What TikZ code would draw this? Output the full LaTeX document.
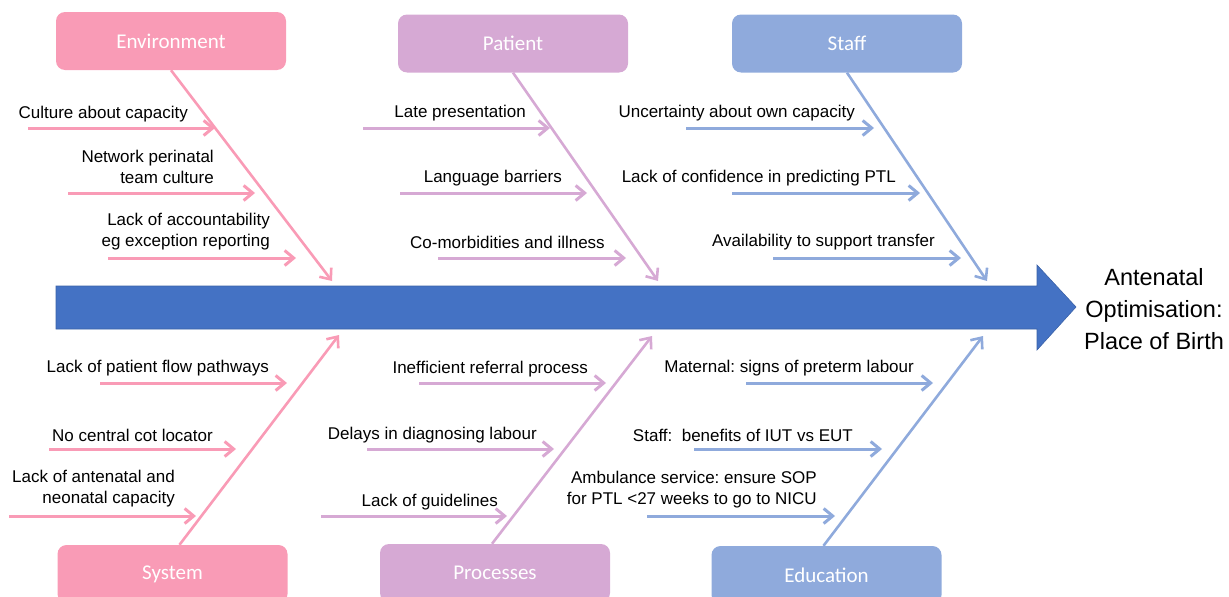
\documentclass[tikz,border=0pt]{standalone}
\usepackage{fontspec}
\setmainfont{Liberation Sans}
\newfontfamily\boxfont{Carlito}
\usetikzlibrary{arrows.meta}
\frenchspacing

\definecolor{envpink}{RGB}{249,155,182}
\definecolor{patpurple}{RGB}{214,169,212}
\definecolor{staffblue}{RGB}{143,170,220}
\definecolor{spineblue}{RGB}{68,114,196}

\tikzset{
  catbox/.style={fill=#1, rounded corners=9pt, minimum width=230pt, minimum height=58pt,
    inner sep=0pt, text=white, font=\boxfont\fontsize{21}{25}\selectfont},
  bone/.style={draw=#1, line width=2.6pt, -{Straight Barb[length=9pt,width=15pt]}},
  twig/.style={draw=#1, line width=3pt, -{Straight Barb[length=9pt,width=15pt]}},
  cause/.style={anchor=east, inner sep=0pt, align=right, font=\fontsize{17}{21}\selectfont},
}

\begin{document}
\begin{tikzpicture}[x=1pt,y=-1pt]
\useasboundingbox (0,0) rectangle (1229,597);

% main spine
\draw[spineblue!85!black, fill=spineblue, line width=0.6pt]
  (56,286) -- (1037,286) -- (1037,265) -- (1076,307) -- (1037,350) -- (1037,329) -- (56,329) -- cycle;
\node[align=center, font=\fontsize{23.5}{32}\selectfont] (goal) at (1154,309)
  {Antenatal\\Optimisation:\\Place of Birth};

% category boxes
\node[catbox=envpink] (env) at (171,41) {Environment};
\node[catbox=patpurple] (pat) at (513,43.5) {Patient};
\node[catbox=staffblue] (stf) at (847,43.5) {Staff};
\node[catbox=envpink] (sys) at (172.5,574) {System};
\node[catbox=patpurple] (prc) at (495,573) {Processes};
\node[catbox=staffblue] (edu) at (826.5,575) {Education};

% bones
\coordinate (envhead) at (332,281);
\coordinate (pathead) at (658,281);
\coordinate (stfhead) at (987,281);
\coordinate (syshead) at (339,335);
\coordinate (prchead) at (652,336);
\coordinate (eduhead) at (983,336);
\draw[bone=envpink] (env.south) -- (envhead);
\draw[bone=patpurple] (pat.south) -- (pathead);
\draw[bone=staffblue] (stf.south) -- (stfhead);
\draw[bone=envpink] ([xshift=7pt]sys.north) -- (syshead);
\draw[bone=patpurple] ([xshift=-3pt]prc.north) -- (prchead);
\draw[bone=staffblue] ([xshift=-3pt]edu.north) -- (eduhead);

% environment
\draw[twig=envpink] (28,128) -- (215,128);
\draw[twig=envpink] (68,193) -- (255,193);
\draw[twig=envpink] (108,258) -- (296,258);
\node[cause] (env1) at (188,114) {Culture about capacity};
\node[cause] (env2) at (214,167) {Network perinatal\\team culture};
\node[cause] (env3) at (270,232) {Lack of accountability\\eg exception reporting};

% patient
\draw[twig=patpurple] (363,128) -- (550,128);
\draw[twig=patpurple] (400,193) -- (587,193);
\draw[twig=patpurple] (438,258) -- (626,258);
\node[cause] (pat1) at (526,113) {Late presentation};
\node[cause] (pat2) at (562,178) {Language barriers};
\node[cause] (pat3) at (605,242) {Co-morbidities and illness};

% staff
\draw[twig=staffblue] (686,128) -- (874,128);
\draw[twig=staffblue] (732,193) -- (920,193);
\draw[twig=staffblue] (773,258) -- (961,258);
\node[cause] (stf1) at (855,113) {Uncertainty about own capacity};
\node[cause] (stf2) at (896,178) {Lack of confidence in predicting PTL};
\node[cause] (stf3) at (935,242) {Availability to support transfer};

% system
\draw[twig=envpink] (100,383) -- (287,383);
\draw[twig=envpink] (49,449) -- (236,449);
\draw[twig=envpink] (9,516) -- (196,516);
\node[cause] (sys1) at (269,368) {Lack of patient flow pathways};
\node[cause] (sys2) at (213,435) {No central cot locator};
\node[cause] (sys3) at (175,489) {Lack of antenatal and\\neonatal capacity};

% processes
\draw[twig=patpurple] (419,383) -- (606,383);
\draw[twig=patpurple] (367,449) -- (554,449);
\draw[twig=patpurple] (321,516) -- (507,516);
\node[cause] (prc1) at (588,369) {Inefficient referral process};
\node[cause] (prc2) at (537,435) {Delays in diagnosing labour};
\node[cause] (prc3) at (498,502) {Lack of guidelines};

% education
\draw[twig=staffblue] (746,383) -- (933,383);
\draw[twig=staffblue] (694,449) -- (882,449);
\draw[twig=staffblue] (647,516) -- (835,516);
\node[cause] (edu1) at (914,368) {Maternal: signs of preterm labour};
\node[cause] (edu2) at (853,435) {Staff:\ \ benefits of IUT vs EUT};
\node[cause] (edu3) at (817,490) {Ambulance service: ensure SOP\\for PTL <27 weeks to go to NICU};

\end{tikzpicture}
\end{document}
